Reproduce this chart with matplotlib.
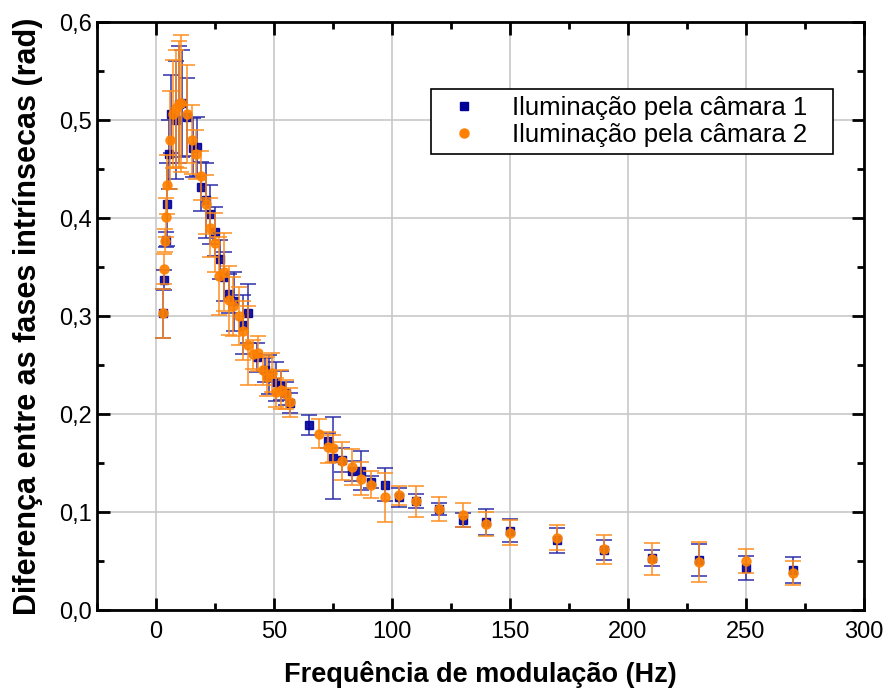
import matplotlib
matplotlib.use('Agg')
import matplotlib.pyplot as plt
from matplotlib.lines import Line2D
from matplotlib.ticker import MultipleLocator, FuncFormatter

plt.rcParams['font.family'] = ['Liberation Sans', 'DejaVu Sans']

# camera 1 (blue squares)
freq1 = [2.9, 3.6, 4.2, 4.5, 5.6, 6.5, 8.4, 9.6, 11, 13, 15.5, 17.2, 19, 21, 23, 25, 27, 29, 31, 33,
         37, 39, 43, 46, 48, 51, 53, 55, 57, 65, 73, 75, 79, 83, 87, 91, 97, 103, 110, 120,
         130, 140, 150, 170, 190, 210, 230, 250, 270]
fase1 = [0.303, 0.337, 0.378, 0.414, 0.465, 0.506, 0.500, 0.516, 0.517, 0.503, 0.472, 0.473, 0.432, 0.418,
         0.404, 0.386, 0.358, 0.340, 0.323, 0.315, 0.291, 0.303, 0.258, 0.245, 0.240, 0.233, 0.229, 0.221,
         0.211, 0.189, 0.173, 0.155, 0.153, 0.142, 0.142, 0.131, 0.128, 0.115, 0.111, 0.103, 0.092, 0.090,
         0.081, 0.071, 0.061, 0.053, 0.051, 0.043, 0.041]
erro1 = [0.025, 0.010, 0.008, 0.042, 0.035, 0.040, 0.060, 0.060, 0.055, 0.040, 0.030, 0.030, 0.025, 0.038,
         0.030, 0.025, 0.020, 0.025, 0.020, 0.030, 0.030, 0.030, 0.015, 0.012, 0.020, 0.020, 0.015, 0.012,
         0.010, 0.010, 0.008, 0.042, 0.012, 0.010, 0.020, 0.006, 0.017, 0.010, 0.007, 0.006, 0.007, 0.013,
         0.012, 0.013, 0.010, 0.008, 0.016, 0.012, 0.013]

# camera 2 (orange circles)
freq2 = [2.9, 3.6, 4.0, 4.3, 4.8, 6.0, 7.2, 8.4, 9.8, 10.8, 13.2, 15.3, 17, 19, 21, 23, 25, 26.8, 29, 31,
         32.8, 35, 37, 39, 41, 43.3, 45.2, 47, 49, 51, 53, 55, 57, 69, 73, 75, 79, 83, 87, 91,
         97, 103, 110, 120, 130, 140, 150, 170, 190, 210, 230, 250, 270]
fase2 = [0.303, 0.348, 0.377, 0.401, 0.434, 0.480, 0.506, 0.512, 0.516, 0.517, 0.506, 0.480, 0.465, 0.443,
         0.414, 0.390, 0.375, 0.341, 0.345, 0.316, 0.310, 0.300, 0.285, 0.270, 0.261, 0.262, 0.245, 0.238,
         0.242, 0.222, 0.225, 0.220, 0.212, 0.180, 0.166, 0.165, 0.152, 0.146, 0.134, 0.128, 0.115, 0.117,
         0.111, 0.103, 0.097, 0.088, 0.079, 0.074, 0.062, 0.052, 0.049, 0.050, 0.038]
erro2 = [0.025, 0.015, 0.012, 0.020, 0.030, 0.050, 0.055, 0.060, 0.065, 0.070, 0.050, 0.035, 0.025, 0.025,
         0.030, 0.030, 0.030, 0.040, 0.040, 0.035, 0.030, 0.030, 0.030, 0.040, 0.015, 0.018, 0.015, 0.020,
         0.020, 0.015, 0.020, 0.015, 0.015, 0.015, 0.016, 0.014, 0.019, 0.018, 0.017, 0.014, 0.025, 0.010,
         0.016, 0.012, 0.012, 0.012, 0.013, 0.013, 0.015, 0.016, 0.020, 0.012, 0.012]

fig = plt.figure(figsize=(8.92, 6.91), dpi=100)
ax = fig.add_axes([0.1087, 0.1172, 0.8599, 0.8508])

ax.errorbar(freq1, fase1, yerr=erro1, fmt='s', color='#000099', markersize=6,
            ecolor='#2a2aa8', elinewidth=1.2, capsize=6, capthick=1.2, alpha=0.9, zorder=3)
ax.errorbar(freq2, fase2, yerr=erro2, fmt='o', color='#ff8000', markersize=6.5,
            ecolor='#ff8c1a', elinewidth=1.2, capsize=6, capthick=1.2, alpha=0.9, zorder=4)

ax.set_xlim(-25, 300)
ax.set_ylim(0, 0.6)
ax.xaxis.set_major_locator(MultipleLocator(50))
ax.xaxis.set_minor_locator(MultipleLocator(25))
ax.yaxis.set_major_locator(MultipleLocator(0.1))
ax.yaxis.set_minor_locator(MultipleLocator(0.05))
ax.yaxis.set_major_formatter(FuncFormatter(lambda v, p: ('%.1f' % v).replace('.', ',')))
ax.grid(True, which='major', color='#c8c8c8', linewidth=1.2)
ax.set_axisbelow(True)

ax.tick_params(which='both', direction='in', top=True, right=True, labelsize=17, width=2)
ax.tick_params(which='major', length=9)
ax.tick_params(which='minor', length=5)
ax.tick_params(axis='x', pad=8)
for s in ax.spines.values():
    s.set_linewidth(2)

ax.set_xlabel('Frequência de modulação (Hz)', fontsize=19.5, fontweight='bold', labelpad=13)
ax.set_ylabel('Diferença entre as fases intrínsecas (rad)', fontsize=22, fontweight='bold', labelpad=12)

handles = [Line2D([], [], marker='s', color='#000099', linestyle='none', markersize=6),
           Line2D([], [], marker='o', color='#ff8000', linestyle='none', markersize=6.5)]
leg = ax.legend(handles, ['Iluminação pela câmara 1', 'Iluminação pela câmara 2'],
                loc='upper left', bbox_to_anchor=(0.436, 0.774, 0.523, 0.112), mode='expand',
                fontsize=18.5, frameon=True,
                fancybox=False, edgecolor='black', framealpha=1, borderpad=0.25,
                labelspacing=0.15, handletextpad=0.9, handlelength=2.0, borderaxespad=0)
leg.get_frame().set_linewidth(1.2)

fig.savefig('out.png', dpi=100)
